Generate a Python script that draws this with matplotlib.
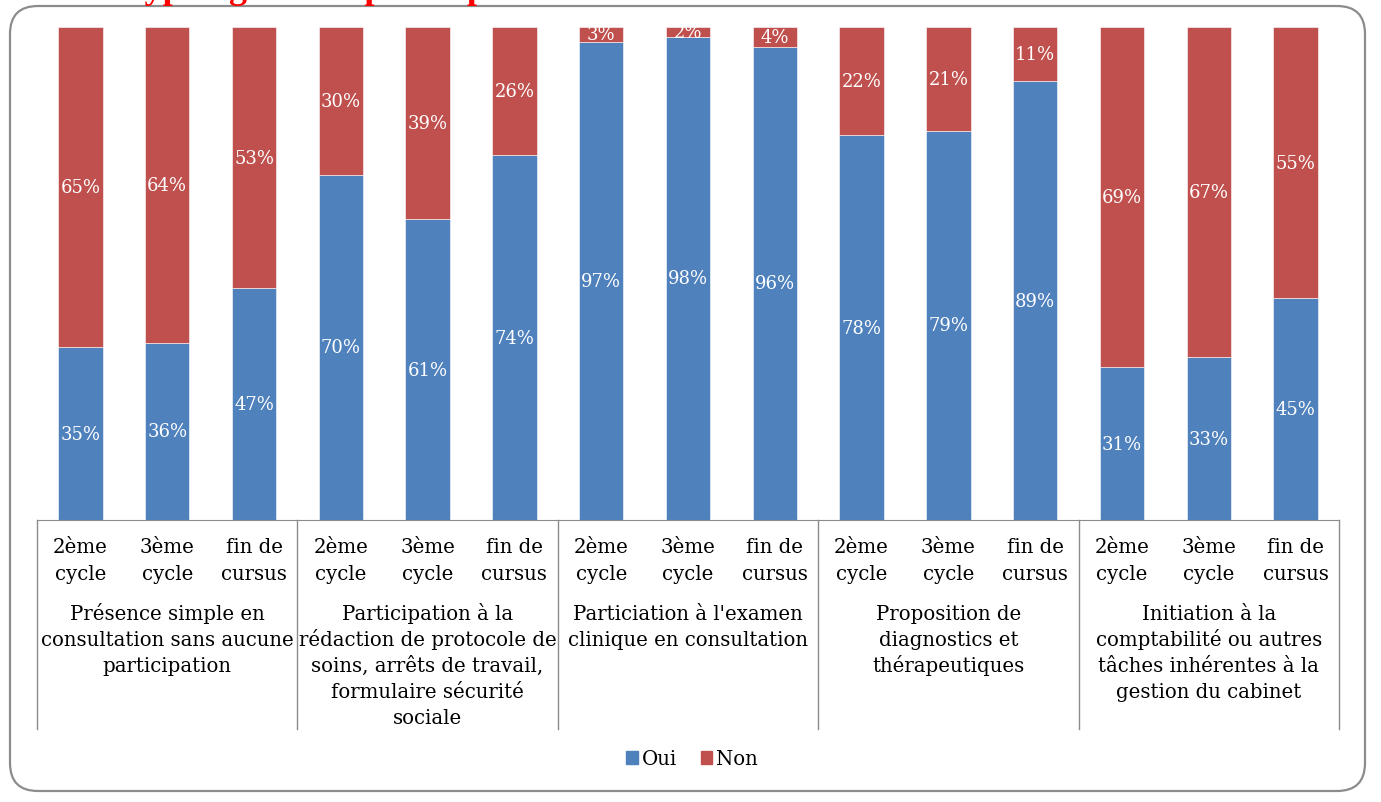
import numpy as np
import matplotlib
matplotlib.use('Agg')
import matplotlib.pyplot as plt
from matplotlib.patches import FancyBboxPatch, Patch
from matplotlib.transforms import IdentityTransform

plt.rcParams['font.family'] = ['DejaVu Serif']

groups = ['Présence simple en\nconsultation sans aucune\nparticipation',
          'Participation à la\nrédaction de protocole de\nsoins, arrêts de travail,\nformulaire sécurité\nsociale',
          "Particiation à l'examen\nclinique en consultation",
          'Proposition de\ndiagnostics et\nthérapeutiques',
          'Initiation à la\ncomptabilité ou autres\ntâches inhérentes à la\ngestion du cabinet']
stages = ['2ème\ncycle', '3ème\ncycle', 'fin de\ncursus']
oui = [35, 36, 47, 70, 61, 74, 97, 98, 96, 78, 79, 89, 31, 33, 45]
non = [65, 64, 53, 30, 39, 26, 3, 2, 4, 22, 21, 11, 69, 67, 55]

blue = '#4F81BD'
red = '#C0504D'
grey = '#8C8C8C'

W, H = 1381, 803
fig = plt.figure(figsize=(W / 100, H / 100), dpi=100)
ax = fig.add_axes([37 / W, 1 - 521 / H, (1339 - 37) / W, (521 - 28) / H])

x = np.arange(len(oui))
b1 = ax.bar(x, oui, width=0.51, color=blue, edgecolor='white', linewidth=0.4)
b2 = ax.bar(x, non, width=0.51, bottom=oui, color=red, edgecolor='white', linewidth=0.4)
ax.bar_label(b1, labels=[f'{v}%' for v in oui], label_type='center', color='white', fontsize=13)
ax.bar_label(b2, labels=[f'{v}%' for v in non], label_type='center', color='white', fontsize=13)

ax.set_xlim(-0.5, len(oui) - 0.5)
ax.set_ylim(0, 100)
ax.set_yticks([])
for s in ['top', 'left', 'right']:
    ax.spines[s].set_visible(False)
ax.spines['bottom'].set_color(grey)
ax.set_xticks(x)
ax.set_xticklabels(stages * len(groups), fontsize=14.2, linespacing=1.57)
ax.tick_params(axis='x', length=0, pad=12)

tr = ax.get_xaxis_transform()
for k in range(len(groups) + 1):
    ax.plot([3 * k - 0.5] * 2, [0, -0.424], color=grey, lw=1, transform=tr, clip_on=False)
# group labels, one line at a time so the line pitch stays even (26 px)
for k, g in enumerate(groups):
    for i, line in enumerate(g.split('\n')):
        ax.annotate(line, (3 * k + 1, 0), xycoords=tr, xytext=(0, -(99 + 26 * i) * 0.72),
                    textcoords='offset points', ha='center', va='baseline', fontsize=14.2,
                    annotation_clip=False)

handles = [Patch(color=blue), Patch(color=red)]
fig.legend(handles, ['Oui', 'Non'], loc='center', bbox_to_anchor=(692 / W, 1 - 760 / H), ncol=2,
           frameon=False, fontsize=14.2, handlelength=0.6, handleheight=0.6, handletextpad=0.2, columnspacing=1.2)

fig.add_artist(FancyBboxPatch((10, 11), 1355, 785, boxstyle='round,pad=0,rounding_size=28',
                              transform=IdentityTransform(), fill=False, edgecolor=grey, lw=1.6))

fig.text(123 / W, 1 + 2 / H, 'Typologie de la participation', color='red', fontweight='bold',
         family='Liberation Serif', fontsize=26, va='baseline', ha='left')

fig.savefig('out.png', dpi=100)
